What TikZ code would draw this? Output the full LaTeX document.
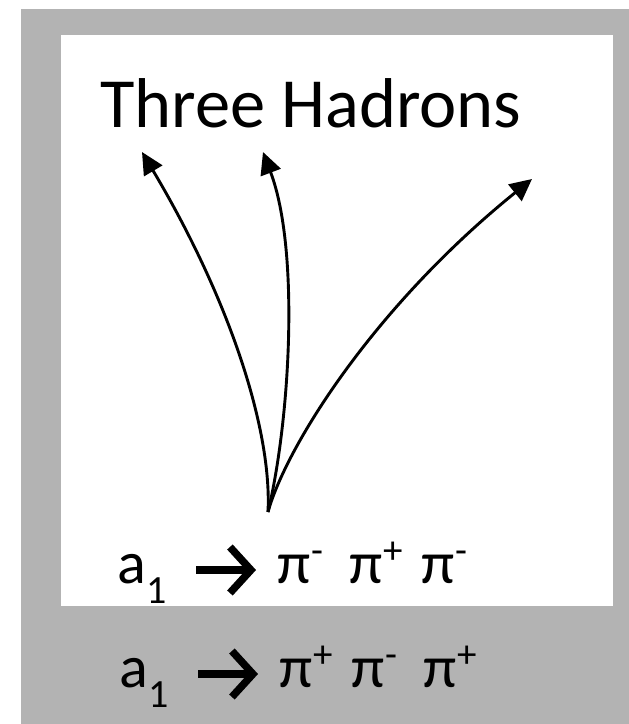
\documentclass[tikz,border=0pt]{standalone}
\usepackage{fontspec}
\setmainfont{Carlito}
\usetikzlibrary{arrows.meta}
\definecolor{bggray}{HTML}{B3B3B3}
\newcommand{\mysub}[1]{\kern1pt\raisebox{-20pt}{\fontsize{40}{40}\selectfont #1}}
\newcommand{\mysup}[1]{\raisebox{20pt}{\fontsize{39}{39}\selectfont #1}}
\newcommand{\pigroup}[1]{\makebox[72pt][l]{π\kern1pt\mysup{#1}}}
\begin{document}
\begin{tikzpicture}[x=1pt,y=-1pt,
  track/.style={line width=2.9pt,-{Triangle[length=22pt,width=21pt]}},
  bigarrow/.style={line width=7.5pt,-{Straight Barb[length=21pt,width=46pt,line join=miter]}},
  lbl/.style={inner sep=0pt,anchor=base west,text=black,font=\fontsize{60}{60}\selectfont}]
\useasboundingbox (0,0) rectangle (629,724);
\fill[white] (0,0) rectangle (629,724);
\fill[bggray] (21,9) rectangle (629,724);
\fill[white] (61,35) rectangle (613,606);
\node[lbl,font=\fontsize{70.5}{70.5}\selectfont] (title) at (100,127) {Three Hadrons};
\coordinate (origin) at (268,512);
\coordinate (t1) at (142,152);
\coordinate (t2) at (263,152);
\coordinate (t3) at (532,179);
\draw[track] (origin) .. controls (272,430) and (230,300) .. (t1);
\draw[track] (origin) .. controls (290,420) and (300,250) .. (t2);
\draw[track] (origin) .. controls (285,450) and (370,310) .. (t3);
% first decay
\node[lbl] (a1) at (117,583) {a\mysub{1}};
\coordinate (arr1s) at (196,570);
\coordinate (arr1e) at (256,570);
\draw[bigarrow] (arr1s) -- (arr1e);
\node[lbl] (pions1) at (277,583) {\pigroup{-}\pigroup{+}\pigroup{-}};
% second decay
\node[lbl] (a2) at (119,687) {a\mysub{1}};
\coordinate (arr2s) at (198,674);
\coordinate (arr2e) at (258,674);
\draw[bigarrow] (arr2s) -- (arr2e);
\node[lbl] (pions2) at (279,687) {\pigroup{+}\pigroup{-}\pigroup{+}};
\end{tikzpicture}
\end{document}
